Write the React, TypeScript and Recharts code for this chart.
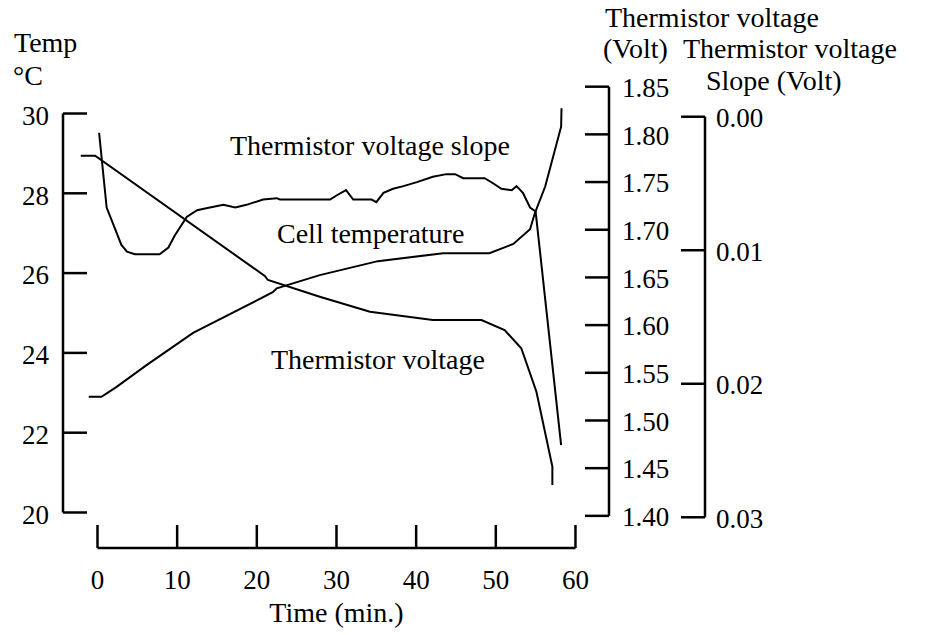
import { LineChart, Line, XAxis, YAxis, ReferenceLine } from "recharts"

// time (min) / value pairs
const cellTemperature: [number, number][] = [
  [-1.1, 22.9], [0.5, 22.9], [2.4, 23.15], [6.2, 23.7], [12.0, 24.5],
  [22.0, 25.52], [22.5, 25.62], [27.9, 25.95], [35.2, 26.3], [43.4, 26.5],
  [49.2, 26.5], [52.2, 26.73], [54.3, 27.1], [54.9, 27.5], [56.2, 28.17],
  [58.2, 29.67], [58.25, 30.13],
]

const thermistorVoltage: [number, number][] = [
  [-2.1, 1.7776], [-0.3, 1.7776], [21.0, 1.6515], [21.4, 1.6473], [27.9, 1.6298],
  [34.2, 1.6141], [42.1, 1.6054], [48.2, 1.6054], [51.1, 1.5949], [53.2, 1.5757],
  [55.1, 1.5302], [57.1, 1.4516], [57.1, 1.4324],
]

const thermistorSlope: [number, number][] = [
  [0.2, 0.0012], [1.15, 0.0068], [3.0, 0.0096], [3.7, 0.0101], [4.7, 0.0103],
  [7.8, 0.0103], [8.9, 0.0098], [9.7, 0.0089], [11.2, 0.0075], [12.5, 0.007],
  [14.1, 0.0068], [15.8, 0.0066], [17.3, 0.0068], [18.7, 0.0066], [20.8, 0.0062],
  [22.5, 0.0061], [22.9, 0.0062], [29.2, 0.0062], [30.0, 0.0059], [31.2, 0.0055],
  [32.1, 0.0062], [34.4, 0.0062], [35.0, 0.0064], [35.9, 0.0057], [37.1, 0.0054],
  [38.4, 0.0052], [40.1, 0.0049], [42.1, 0.0045], [43.8, 0.0043], [44.9, 0.0043],
  [45.9, 0.0046], [48.6, 0.0046], [49.7, 0.005], [50.7, 0.0054], [52.0, 0.0055],
  [52.6, 0.0052], [53.4, 0.0057], [54.3, 0.0068], [55.0, 0.0071], [58.2, 0.0246],
]

const timeTicks = [0, 10, 20, 30, 40, 50, 60]
const tempTicks = [20, 22, 24, 26, 28, 30]
const voltTicks = [1.4, 1.45, 1.5, 1.55, 1.6, 1.65, 1.7, 1.75, 1.8, 1.85]
const slopeTicks = [0, 0.01, 0.02, 0.03]

const W = 928
const H = 635
const FONT = '"Liberation Serif", "Times New Roman", serif'
const INK = "#000"

// domains chosen so the plot box (63..609 x 80..548) lines up with the figure
const X_DOMAIN: [number, number] = [-4.33, 64.21]
const TEMP_DOMAIN: [number, number] = [19.11, 30.84]
const VOLT_DOMAIN: [number, number] = [1.3663, 1.857]
const SLOPE_DOMAIN: [number, number] = [-0.00275, 0.0323]
const VOLT_AXIS_W = 96
const SLOPE_AXIS_X = X_DOMAIN[1] + VOLT_AXIS_W / ((609 - 63) / (X_DOMAIN[1] - X_DOMAIN[0]))

const rows = (pts: [number, number][]) => pts.map(([t, v]) => ({ t, v }))

function TimeTick({ x, y, payload }: any) {
  return (
    <g>
      <line x1={x} x2={x} y1={y} y2={y - 23} stroke={INK} strokeWidth={2.5} />
      <text x={x} y={y + 41} textAnchor="middle" fontSize={27} fontFamily={FONT} fill={INK}>
        {payload.value}
      </text>
    </g>
  )
}

function TempTick({ x, y, payload }: any) {
  return (
    <g>
      <line x1={x} x2={x + 24} y1={y} y2={y} stroke={INK} strokeWidth={2.5} />
      <text x={x - 14} y={y} dy="0.42em" textAnchor="end" fontSize={27} fontFamily={FONT} fill={INK}>
        {payload.value}
      </text>
    </g>
  )
}

function RightTick({ x, y, payload, gap }: any) {
  return (
    <g>
      <line x1={x - 24} x2={x} y1={y} y2={y} stroke={INK} strokeWidth={2.5} />
      <text x={x + gap} y={y} dy="0.38em" textAnchor="start" fontSize={27} fontFamily={FONT} fill={INK}>
        {Number(payload.value).toFixed(2)}
      </text>
    </g>
  )
}

const labels = [
  { text: "Temp", x: 14, y: 52 },
  { text: "°C", x: 13, y: 85 },
  { text: "Thermistor voltage", x: 605, y: 27 },
  { text: "(Volt)", x: 603, y: 58 },
  { text: "Thermistor voltage", x: 683, y: 58 },
  { text: "Slope (Volt)", x: 706, y: 90 },
  { text: "Thermistor voltage slope", x: 230, y: 155 },
  { text: "Cell temperature", x: 277, y: 243 },
  { text: "Thermistor voltage", x: 271, y: 369 },
]

export default function App() {
  const axisLine = { stroke: INK, strokeWidth: 2.5, ifOverflow: "visible" as const }
  return (
    <div style={{ position: "absolute", left: 0, top: 0, width: W, height: H, background: "#fff" }}>
      <LineChart width={W} height={H} margin={{ top: 80, right: 0, bottom: 0, left: 0 }}>
        <XAxis
          xAxisId="t"
          type="number"
          dataKey="t"
          domain={X_DOMAIN}
          allowDataOverflow
          ticks={timeTicks}
          interval={0}
          height={87}
          axisLine={false}
          tickLine={false}
          tickSize={0}
          tickMargin={0}
          tick={<TimeTick />}
        />
        <YAxis
          yAxisId="a_temp"
          orientation="left"
          width={63}
          domain={TEMP_DOMAIN}
          allowDataOverflow
          ticks={tempTicks}
          interval={0}
          axisLine={false}
          tickLine={false}
          tickSize={0}
          tickMargin={0}
          tick={<TempTick />}
        />
        <YAxis
          yAxisId="b_volt"
          orientation="right"
          width={VOLT_AXIS_W}
          domain={VOLT_DOMAIN}
          allowDataOverflow
          ticks={voltTicks}
          interval={0}
          axisLine={false}
          tickLine={false}
          tickSize={0}
          tickMargin={0}
          tick={<RightTick gap={13} />}
        />
        <YAxis
          yAxisId="c_slope"
          orientation="right"
          width={223}
          reversed
          domain={SLOPE_DOMAIN}
          allowDataOverflow
          ticks={slopeTicks}
          interval={0}
          axisLine={false}
          tickLine={false}
          tickSize={0}
          tickMargin={0}
          tick={<RightTick gap={11} />}
        />

        <ReferenceLine xAxisId="t" yAxisId="a_temp" segment={[{ x: 0, y: TEMP_DOMAIN[0] }, { x: 60, y: TEMP_DOMAIN[0] }]} {...axisLine} />
        <ReferenceLine xAxisId="t" yAxisId="a_temp" segment={[{ x: X_DOMAIN[0], y: 20 }, { x: X_DOMAIN[0], y: 30 }]} {...axisLine} />
        <ReferenceLine xAxisId="t" yAxisId="b_volt" segment={[{ x: X_DOMAIN[1], y: 1.4 }, { x: X_DOMAIN[1], y: 1.85 }]} {...axisLine} />
        <ReferenceLine xAxisId="t" yAxisId="c_slope" segment={[{ x: SLOPE_AXIS_X, y: 0 }, { x: SLOPE_AXIS_X, y: 0.03 }]} {...axisLine} />

        <Line xAxisId="t" yAxisId="a_temp" data={rows(cellTemperature)} dataKey="v" type="linear" stroke={INK} strokeWidth={2} dot={false} isAnimationActive={false} />
        <Line xAxisId="t" yAxisId="b_volt" data={rows(thermistorVoltage)} dataKey="v" type="linear" stroke={INK} strokeWidth={2} dot={false} isAnimationActive={false} />
        <Line xAxisId="t" yAxisId="c_slope" data={rows(thermistorSlope)} dataKey="v" type="linear" stroke={INK} strokeWidth={2} dot={false} isAnimationActive={false} />
      </LineChart>

      <svg width={W} height={H} style={{ position: "absolute", left: 0, top: 0, pointerEvents: "none" }}>
        {labels.map((l, i) => (
          <text key={i} x={l.x} y={l.y} fontSize={28} fontFamily={FONT} fill={INK}>
            {l.text}
          </text>
        ))}
        <text x={336.5} y={622} textAnchor="middle" fontSize={28} fontFamily={FONT} fill={INK}>
          Time (min.)
        </text>
      </svg>
    </div>
  )
}
